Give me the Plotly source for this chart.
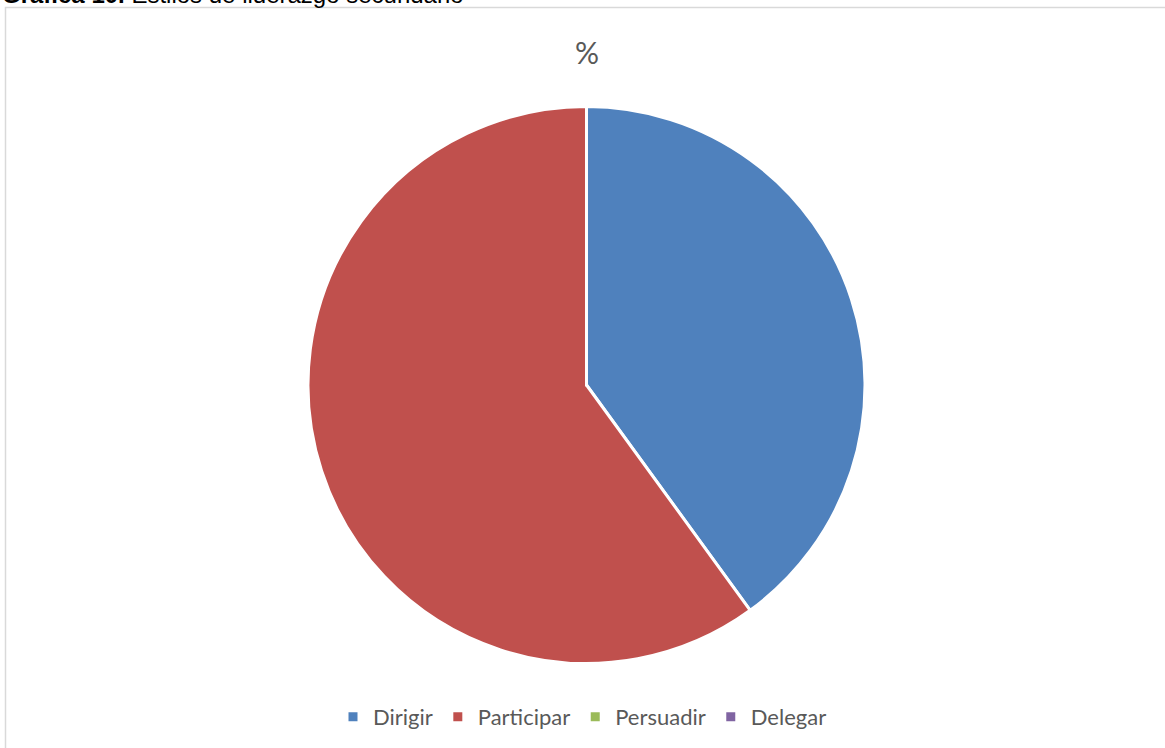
import plotly.graph_objects as go

labels = ["Dirigir", "Participar", "Persuadir", "Delegar"]
values = [40, 60, 0, 0]
colors = ["#4F81BD", "#C0504D", "#9BBB59", "#8064A2"]
chart_title = "%"
caption = "<b>Gráfica 10.</b> Estilos de liderazgo secundario"

W, H = 1165, 748
cx, cy, r = 586.5, 385, 278.5

fig = go.Figure(go.Pie(
    labels=labels, values=values, sort=False, direction="clockwise", rotation=0,
    marker=dict(colors=colors, line=dict(color="white", width=3)),
    textinfo="none", hoverinfo="label+percent",
    domain=dict(x=[(cx - r) / W, (cx + r) / W], y=[1 - (cy + r) / H, 1 - (cy - r) / H]),
    showlegend=True,
))

fig.update_layout(
    width=W, height=H, margin=dict(l=0, r=0, t=0, b=0),
    paper_bgcolor="white", plot_bgcolor="white",
    font=dict(family="Lato, 'Open Sans', sans-serif", color="#595959"),
    legend=dict(orientation="h", x=0.5, xanchor="center", y=1 - 717 / H, yanchor="middle",
                font=dict(size=22, color="#595959"), itemwidth=30, traceorder="normal"),
    shapes=[dict(type="rect", xref="paper", yref="paper", x0=5.5 / W, x1=1.2, y0=-0.2, y1=1 - 7.5 / H,
                 line=dict(color="#D9D9D9", width=1.5), fillcolor="rgba(0,0,0,0)")],
    annotations=[
        dict(text=chart_title, x=cx / W, y=1 - 52 / H, xref="paper", yref="paper",
             showarrow=False, font=dict(size=30, color="#595959"), xanchor="center", yanchor="middle"),
        dict(text=caption, x=0, y=1 - 10 / H, xref="paper", yref="paper", showarrow=False,
             font=dict(size=24, color="#000000", family="Liberation Sans, Arial"),
             xanchor="left", yanchor="bottom"),
    ],
)

fig.write_html("out.html", config={"displayModeBar": False},
               post_script="document.body.style.margin='0';document.body.style.overflow='hidden';")
